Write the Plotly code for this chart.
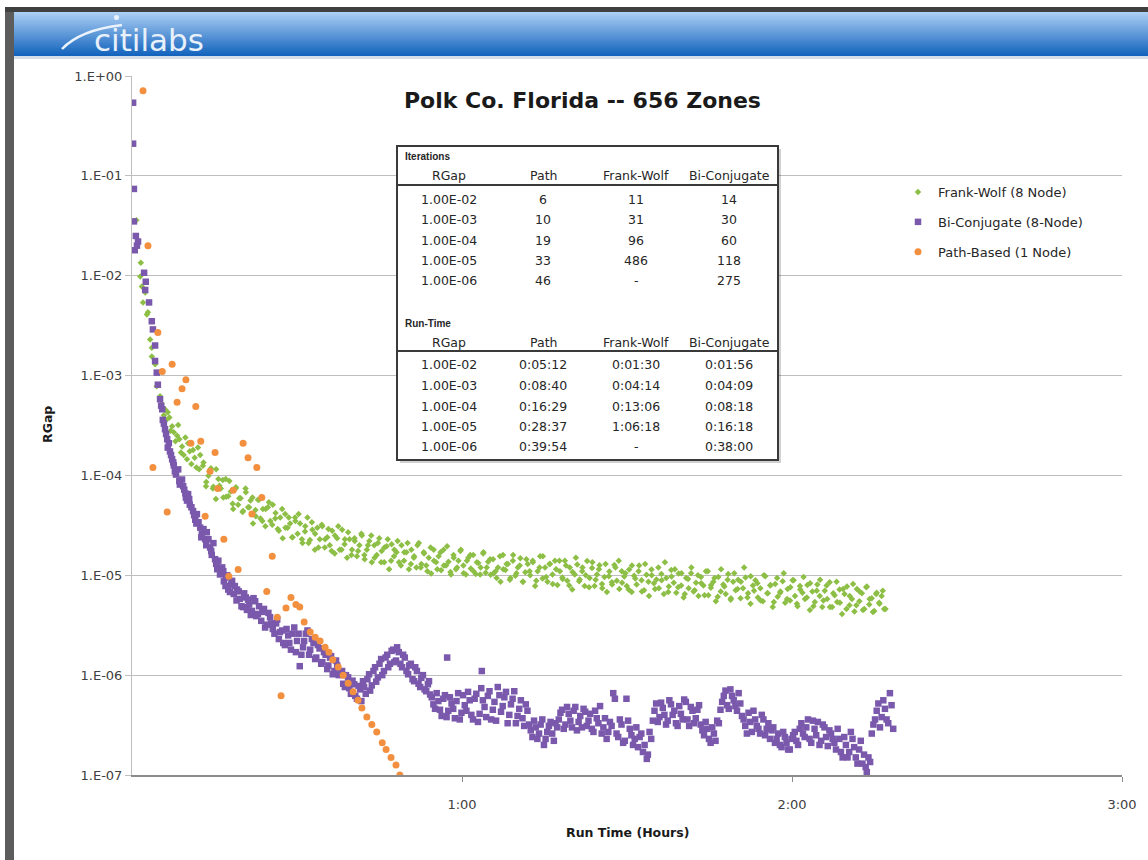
import plotly.graph_objects as go

# ---------------- data (minutes, RGap) ----------------
fw_min = [0.8, 1.6, 1.5, 1.8, 2.4, 2.0, 2.7, 2.9, 3.3, 3.6, 3.6, 4.2, 4.5, 5.1, 6.0, 6.5, 7.3, 8.4, 8.2, 9.1, 10.2, 11.1, 12.4,
          12.9, 13.5, 14.1, 14.7, 15.3, 15.9, 16.5, 17.1, 17.7, 18.3, 18.9, 19.5, 20.1, 20.7, 21.3, 21.9, 22.5, 23.1, 23.7,
          24.3, 24.9, 25.5, 26.1, 26.7, 27.3, 27.9, 28.5, 29.1, 29.7, 30.3, 30.9, 31.5, 32.1, 32.7, 33.3, 33.9, 34.5, 35.1,
          35.7, 36.3, 36.9, 37.5, 38.1, 38.7, 39.3, 39.9, 40.5, 41.1, 41.7, 42.3, 42.9, 43.5, 44.1, 44.7, 45.3, 45.9, 46.5,
          47.1, 47.7, 48.3, 48.9, 49.5, 50.1, 50.7, 51.3, 51.9, 52.5, 53.1, 53.7, 54.3, 54.9, 55.5, 56.1, 56.7, 57.3, 57.9,
          58.5, 59.1, 59.7, 60.3, 60.9, 61.5, 62.1, 62.7, 63.3, 63.9, 64.5, 65.1, 65.7, 66.3, 66.9, 67.5, 68.1, 68.7, 69.3,
          69.9, 70.5, 71.1, 71.7, 72.3, 72.9, 73.5, 74.1, 74.7, 75.3, 75.9, 76.5, 77.1, 77.7, 78.3, 78.9, 79.5, 80.1, 80.7,
          81.3, 81.9, 82.5, 83.1, 83.7, 84.3, 84.9, 85.5, 86.1, 86.7, 87.3, 87.9, 88.5, 89.1, 89.7, 90.3, 90.9, 91.5, 92.1,
          92.7, 93.3, 93.9, 94.5, 95.1, 95.7, 96.3, 96.9, 97.5, 98.1, 98.7, 99.3, 99.9, 100.5, 101.1, 101.7, 102.3, 102.9,
          103.5, 104.1, 104.7, 105.3, 105.9, 106.5, 107.1, 107.7, 108.3, 108.9, 109.5, 110.1, 110.7, 111.3, 111.9, 112.5,
          113.1, 113.7, 114.3, 114.9, 115.5, 116.1, 116.7, 117.3, 117.9, 118.5, 119.1, 119.7, 120.3, 120.9, 121.5, 122.1,
          122.7, 123.3, 123.9, 124.5, 125.1, 125.7, 126.3, 126.9, 127.5, 128.1, 128.7, 129.3, 129.9, 130.5, 131.1, 131.7,
          132.3, 132.9, 133.5, 134.1, 134.7, 135.3, 135.9, 136.5, 137.0]
fw_rgap = [3.6e-2, 1.35e-2, 9.8e-3, 7.8e-3, 6.8e-3, 5.4e-3, 4.1e-3, 4.3e-3, 2.3e-3, 1.9e-3, 1.55e-3, 1.3e-3, 7.8e-4, 6.2e-4,
           4.6e-4, 4.3e-4, 3.1e-4, 3.2e-4, 2.5e-4, 1.95e-4, 2.1e-4, 1.8e-4, 1.6e-4,
           1.25e-4, 8.6e-5, 1.1e-4, 7.4e-5, 1.15e-4, 7.9e-5, 9.0e-5, 6.1e-5, 8.8e-5, 5.2e-5, 7.6e-5, 5.9e-5, 4.3e-5, 6.8e-5,
           4.8e-5, 6.0e-5, 3.9e-5, 5.7e-5, 3.5e-5, 4.6e-5, 5.4e-5, 3.2e-5, 4.2e-5, 2.8e-5, 4.6e-5, 3.0e-5, 3.8e-5, 2.4e-5,
           3.5e-5, 4.1e-5, 2.3e-5, 3.1e-5, 2.1e-5, 3.4e-5, 2.6e-5, 1.9e-5, 3.2e-5, 2.3e-5, 2.9e-5, 1.75e-5, 2.5e-5, 3.1e-5,
           1.8e-5, 2.3e-5, 2.7e-5, 1.6e-5, 2.2e-5, 1.75e-5, 2.6e-5, 1.45e-5, 2.0e-5, 2.5e-5, 1.5e-5, 2.1e-5, 1.35e-5, 1.9e-5,
           2.3e-5, 1.4e-5, 1.8e-5, 2.2e-5, 1.25e-5, 1.7e-5, 2.1e-5, 1.3e-5, 1.55e-5, 2.0e-5, 1.2e-5, 1.65e-5, 1.1e-5, 1.9e-5,
           1.4e-5, 1.15e-5, 1.7e-5, 1.25e-5, 1.95e-5, 1.08e-5, 1.5e-5, 1.2e-5, 1.75e-5, 1.05e-5, 1.4e-5, 1.6e-5, 1.1e-5,
           1.35e-5, 1.02e-5, 1.7e-5, 1.2e-5, 1.45e-5, 1.04e-5, 9.4e-6, 1.55e-5, 1.15e-5, 1.3e-5, 9.0e-6, 1.6e-5, 1.05e-5,
           1.25e-5, 8.6e-6, 1.45e-5, 1.1e-5, 1.35e-5, 8.8e-6, 1.2e-5, 1.55e-5, 9.6e-6, 1.3e-5, 8.2e-6, 1.15e-5, 1.4e-5, 9.2e-6,
           1.25e-5, 7.9e-6, 1.08e-5, 1.5e-5, 8.7e-6, 1.2e-5, 1.0e-5, 7.6e-6, 1.35e-5, 9.0e-6, 1.15e-5, 7.4e-6, 1.3e-5, 9.8e-6,
           8.1e-6, 1.2e-5, 1.4e-5, 8.4e-6, 1.05e-5, 7.2e-6, 1.25e-5, 9.3e-6, 1.1e-5, 6.9e-6, 1.3e-5, 8.6e-6, 1.0e-5, 7.3e-6,
           1.2e-5, 8.9e-6, 1.35e-5, 6.8e-6, 9.7e-6, 1.15e-5, 7.6e-6, 1.05e-5, 6.5e-6, 9.2e-6, 1.2e-5, 7.1e-6, 1.0e-5, 8.3e-6,
           6.3e-6, 1.1e-5, 8.0e-6, 9.4e-6, 6.1e-6, 1.15e-5, 7.7e-6, 9.0e-6, 5.9e-6, 1.05e-5, 7.3e-6, 8.6e-6, 1.2e-5, 6.0e-6,
           9.8e-6, 7.0e-6, 8.3e-6, 5.6e-6, 1.0e-5, 6.6e-6, 8.0e-6, 5.4e-6, 9.4e-6, 6.9e-6, 1.05e-5, 5.8e-6, 7.6e-6, 8.9e-6,
           5.2e-6, 7.2e-6, 9.6e-6, 6.0e-6, 8.3e-6, 4.9e-6, 7.0e-6, 9.0e-6, 5.6e-6, 7.9e-6, 4.8e-6, 6.6e-6, 8.6e-6, 5.3e-6,
           7.3e-6, 4.6e-6, 6.2e-6, 8.2e-6, 5.0e-6, 6.9e-6, 4.5e-6, 7.6e-6, 5.8e-6, 4.3e-6, 6.5e-6, 5.2e-6, 7.0e-6, 4.6e-6]

fw_min_more = [5.4, 5.8, 6.2, 6.8, 7.0, 7.6, 7.9, 8.6, 8.9, 9.4, 9.7, 10.0, 10.5, 10.8, 11.4, 11.7, 12.0, 12.2,
               13.0, 13.45, 13.9, 14.35, 14.8, 15.25, 15.7, 16.15, 16.6, 17.05, 17.5, 17.95, 18.4, 18.85, 19.3, 19.75,
               20.2, 20.65, 21.1, 21.55, 22.0, 22.45, 22.9, 23.35, 23.8, 24.25, 24.7, 25.15, 25.6, 26.05, 26.5, 26.95,
               27.4, 27.85, 28.3, 28.75, 29.2, 29.65, 30.1, 30.55, 31.0, 31.45, 31.9, 32.35, 32.8, 33.25, 33.7, 34.15,
               34.6, 35.05, 35.5, 35.95, 36.4, 36.85, 37.3, 37.75, 38.2, 38.65, 39.1, 39.55, 40.0, 40.45, 40.9, 41.35,
               41.8, 42.25, 42.7, 43.15, 43.6, 44.05, 44.5, 44.95, 45.4, 45.85, 46.3, 46.75, 47.2, 47.65, 48.1, 48.55,
               49.0, 49.45, 49.9, 50.35, 50.8, 51.25, 51.7, 52.15, 52.6, 53.05, 53.5, 53.95, 54.4, 54.85, 55.3, 55.75,
               56.2, 56.65, 57.1, 57.55, 58.0, 58.45, 58.9, 59.35, 59.8, 60.25, 60.7, 61.15, 61.6, 62.05, 62.5, 62.95,
               63.4, 63.85, 64.3, 64.75, 65.2, 65.65, 66.1, 66.55, 67.0, 67.45, 67.9, 68.35, 68.8, 69.25, 69.7, 70.15,
               70.6, 71.05, 71.5, 71.95, 72.4, 72.85, 73.3, 73.75, 74.2, 74.65, 75.1, 75.55, 76.0, 76.45, 76.9, 77.35,
               77.8, 78.25, 78.7, 79.15, 79.6, 80.05, 80.5, 80.95, 81.4, 81.85, 82.3, 82.75, 83.2, 83.65, 84.1, 84.55,
               85.0, 85.45, 85.9, 86.35, 86.8, 87.25, 87.7, 88.15, 88.6, 89.05, 89.5, 89.95, 90.4, 90.85, 91.3, 91.75,
               92.2, 92.65, 93.1, 93.55, 94.0, 94.45, 94.9, 95.35, 95.8, 96.25, 96.7, 97.15, 97.6, 98.05, 98.5, 98.95,
               99.4, 99.85, 100.3, 100.75, 101.2, 101.65, 102.1, 102.55, 103.0, 103.45, 103.9, 104.35, 104.8, 105.25,
               105.7, 106.15, 106.6, 107.05, 107.5, 107.95, 108.4, 108.85, 109.3, 109.75, 110.2, 110.65, 111.1, 111.55,
               112.0, 112.45, 112.9, 113.35, 113.8, 114.25, 114.7, 115.15, 115.6, 116.05, 116.5, 116.95, 117.4, 117.85,
               118.3, 118.75, 119.2, 119.65, 120.1, 120.55, 121.0, 121.45, 121.9, 122.35, 122.8, 123.25, 123.7, 124.15,
               124.6, 125.05, 125.5, 125.95, 126.4, 126.85, 127.3, 127.75, 128.2, 128.65, 129.1, 129.55, 130.0, 130.45,
               130.9, 131.35, 131.8, 132.25, 132.7, 133.15, 133.6, 134.05, 134.5, 134.95, 135.4, 135.85, 136.3, 136.75]
fw_rgap_more = [5.2e-4, 4.0e-4, 3.6e-4, 3.8e-4, 2.8e-4, 2.7e-4, 2.2e-4, 2.3e-4, 1.7e-4, 1.6e-4, 2.4e-4, 1.45e-4, 1.75e-4,
                1.3e-4, 1.5e-4, 1.2e-4, 1.9e-4, 1.15e-4,
                1.35e-4, 7.8e-5, 9.9e-5, 1.18e-4, 7.7e-5, 5.8e-5, 9.2e-5, 7.4e-5, 6.0e-5, 9.2e-5, 6.2e-5, 6.9e-5, 4.6e-5,
                7.4e-5, 5.1e-5, 5.9e-5, 4.4e-5, 7.4e-5, 4.8e-5, 5.6e-5, 3.3e-5, 4.5e-5, 5.7e-5, 3.7e-5, 4.6e-5, 3.1e-5,
                4.8e-5, 3.5e-5, 5.1e-5, 3.7e-5, 2.9e-5, 3.8e-5, 2.35e-5, 4.1e-5, 3.0e-5, 3.3e-5, 2.4e-5, 3.8e-5, 2.6e-5,
                3.3e-5, 2.1e-5, 2.75e-5, 3.8e-5, 2.25e-5, 2.85e-5, 1.8e-5, 3.0e-5, 2.3e-5, 3.1e-5, 1.9e-5, 2.4e-5, 2.0e-5,
                2.8e-5, 1.65e-5, 2.35e-5, 1.8e-5, 2.85e-5, 2.05e-5, 1.5e-5, 2.3e-5, 1.8e-5, 2.35e-5, 1.55e-5, 2.0e-5,
                2.5e-5, 1.6e-5, 1.8e-5, 2.2e-5, 1.35e-5, 2.0e-5, 1.6e-5, 2.35e-5, 1.75e-5, 1.35e-5, 1.95e-5, 1.15e-5,
                2.05e-5, 1.55e-5, 1.7e-5, 1.35e-5, 2.0e-5, 1.4e-5, 1.7e-5, 1.15e-5, 1.8e-5, 1.5e-5, 1.2e-5, 2.1e-5, 1.3e-5,
                1.7e-5, 1.25e-5, 1.5e-5, 1.04e-5, 1.8e-5, 1.35e-5, 1.55e-5, 1.12e-5, 1.8e-5, 1.25e-5, 1.37e-5, 1.02e-5,
                1.6e-5, 1.15e-5, 1.4e-5, 1.8e-5, 1.25e-5, 1.02e-5, 1.5e-5, 1.17e-5, 1.6e-5, 1.03e-5, 1.33e-5, 1.2e-5,
                1.65e-5, 1.06e-5, 1.37e-5, 1.01e-5, 1.45e-5, 1.1e-5, 1.2e-5, 8.6e-6, 1.6e-5, 1.13e-5, 1.3e-5, 9.4e-6,
                1.4e-5, 9.9e-6, 1.2e-5, 1.48e-5, 8.6e-6, 1.07e-5, 1.3e-5, 1.0e-5, 1.4e-5, 7.8e-6, 1.1e-5, 1.55e-5, 9.3e-6,
                1.2e-5, 8.6e-6, 1.3e-5, 1.02e-5, 1.4e-5, 8.0e-6, 1.1e-5, 9.5e-6, 1.4e-5, 8.8e-6, 1.2e-5, 7.2e-6, 1.02e-5,
                1.28e-5, 9.1e-6, 1.1e-5, 7.8e-6, 1.39e-5, 9.4e-6, 1.18e-5, 7.8e-6, 1.02e-5, 1.26e-5, 8.2e-6, 9.6e-6,
                6.8e-6, 1.09e-5, 8.5e-6, 1.27e-5, 8.8e-6, 7.3e-6, 1.1e-5, 9.7e-6, 7.8e-6, 1.14e-5, 6.8e-6, 9.9e-6, 8.1e-6,
                1.25e-5, 8.9e-6, 7.1e-6, 1.01e-5, 6.2e-6, 1.14e-5, 8.3e-6, 9.1e-6, 7.4e-6, 1.03e-5, 6.5e-6, 9.4e-6, 7.7e-6,
                1.13e-5, 8.4e-6, 6.7e-6, 1.04e-5, 7.9e-6, 6.0e-6, 9.4e-6, 7.4e-6, 1.05e-5, 6.9e-6, 8.4e-6, 6.2e-6, 9.6e-6,
                7.9e-6, 1.1e-5, 6.3e-6, 7.5e-6, 8.6e-6, 5.5e-6, 9.6e-6, 6.9e-6, 8.1e-6, 6.5e-6, 1.03e-5, 5.7e-6, 8.6e-6,
                7.1e-6, 9.0e-6, 5.9e-6, 7.4e-6, 9.5e-6, 6.6e-6, 5.2e-6, 7.9e-6, 8.9e-6, 6.0e-6, 7.4e-6, 5.5e-6, 9.8e-6,
                6.6e-6, 7.9e-6, 4.8e-6, 8.2e-6, 6.1e-6, 6.7e-6, 8.7e-6, 5.3e-6, 7.3e-6, 5.6e-6, 8.9e-6, 6.2e-6, 4.9e-6,
                7.8e-6, 6.7e-6, 5.8e-6, 8.0e-6, 4.5e-6, 6.9e-6, 5.4e-6, 8.1e-6, 6.2e-6, 4.8e-6, 7.0e-6, 5.8e-6, 8.5e-6,
                4.8e-6, 6.3e-6, 5.4e-6, 7.2e-6, 4.1e-6, 6.5e-6, 7.7e-6, 5.0e-6, 5.8e-6, 4.35e-6, 7.3e-6, 5.5e-6, 6.6e-6,
                4.6e-6, 7.7e-6, 5.1e-6, 5.9e-6, 4.4e-6, 6.7e-6, 5.3e-6, 6.2e-6, 4.6e-6]

bc_min = [0.2, 0.2, 0.35, 0.35, 0.5, 0.7, 0.9, 1.1, 2.2, 2.4, 2.5, 3.1, 3.6, 3.8, 4.2, 4.2, 4.5, 4.7, 5.1, 5.5, 5.6, 6.0,
          6.4, 6.5, 6.9, 7.3, 7.6, 8.0, 8.4, 8.7, 9.1, 9.5, 9.8, 10.2, 10.5, 11.1, 11.5, 11.8, 12.4, 12.7, 13.3, 13.6,
          14.2, 14.5, 15.1, 15.5, 16.0, 16.4, 16.7, 17.1, 17.5, 18.0, 18.5, 19.1, 19.6, 20.2, 20.7, 21.3, 21.8, 22.4,
          22.9, 23.5, 24.0, 24.5, 25.1, 25.6, 26.2, 26.7, 27.3, 27.8, 28.4, 28.9, 29.5, 30.0, 30.5, 31.1, 31.6, 32.2,
          32.7, 33.3, 33.8, 34.4, 34.9, 35.5, 36.0, 36.5, 37.1, 37.6, 38.2, 38.7, 39.3, 39.8, 40.4, 40.9, 41.5, 42.0,
          42.5, 43.1, 43.6, 44.2, 44.7, 45.3, 45.8, 46.4, 46.9, 47.5, 48.0, 48.5, 49.1, 49.6, 50.2, 50.7, 51.3, 51.8,
          52.4, 52.9, 53.5, 54.0,
          54.5, 55.1, 55.7, 56.3, 56.9, 57.3, 57.5, 58.1, 58.7, 59.3, 59.9, 60.5, 61.1, 61.7, 62.3, 62.9, 63.5, 63.6,
          64.1, 64.7, 65.3, 65.9, 66.5, 67.1, 67.7, 68.3, 68.9, 69.5, 70.1, 70.7, 71.3, 71.9, 72.5, 73.1, 73.7, 74.3,
          74.9, 75.5, 76.1, 76.7, 77.3, 77.9, 78.5, 79.1, 79.7, 80.3, 80.9, 81.5, 82.1, 82.7, 83.3, 83.9, 84.5, 85.1,
          85.7, 86.3, 86.9, 87.5, 88.1, 88.7, 89.3, 89.9, 90.5, 91.1, 91.7, 92.3, 92.9, 93.6, 94.1, 94.7, 95.3, 95.9,
          96.5, 97.1, 97.7, 98.3, 98.9, 99.5, 100.1, 100.7, 101.3, 101.9, 102.5, 103.1, 103.7, 104.3, 104.9, 105.5,
          106.1, 106.7, 107.3, 107.9, 108.5, 109.1, 109.7, 110.3, 110.9, 111.5, 112.1, 112.7, 113.3, 113.9, 114.5,
          115.1, 115.7, 116.3, 116.9, 117.5, 118.1, 118.7, 119.3, 119.9, 120.5, 121.1, 121.7, 122.3, 122.9, 123.5,
          124.1, 124.7, 125.3, 125.9, 126.5, 127.1, 127.7, 128.3, 128.9, 129.5, 130.1, 130.7, 131.3, 131.9, 132.5,
          133.1, 133.6, 134.2, 134.8, 135.4, 136.0, 136.6, 137.2, 137.8, 138.4]
bc_rgap = [0.54, 0.21, 0.074, 0.035, 0.018, 0.025, 0.020, 0.022, 1.07e-2, 7.2e-3, 8.7e-3, 5.4e-3, 3.5e-3, 2.9e-3, 2.0e-3,
           1.4e-3, 1.07e-3, 8.1e-4, 5.8e-4, 4.6e-4, 3.6e-4, 2.9e-4, 2.3e-4, 1.9e-4, 1.74e-4, 1.45e-4, 1.26e-4, 1.02e-4,
           1.15e-4, 8.1e-5, 9.1e-5, 7.2e-5, 6.0e-5, 6.5e-5, 5.1e-5, 4.4e-5, 3.6e-5, 4.1e-5, 3.0e-5, 2.6e-5, 2.3e-5, 2.7e-5,
           1.9e-5, 1.6e-5, 1.45e-5, 1.15e-5, 1.02e-5, 1.2e-5, 8.7e-6, 9.5e-6, 7.2e-6, 8.1e-6, 6.5e-6, 7.2e-6, 5.8e-6,
           4.8e-6, 6.0e-6, 5.1e-6, 4.4e-6, 5.5e-6, 4.1e-6, 3.5e-6, 4.6e-6, 3.2e-6, 3.8e-6, 2.9e-6, 3.3e-6, 2.3e-6, 2.8e-6,
           2.0e-6, 2.5e-6, 1.8e-6, 3.0e-6, 2.2e-6, 1.23e-6, 1.9e-6, 2.6e-6, 1.6e-6, 2.3e-6, 1.45e-6, 2.0e-6, 1.3e-6,
           1.7e-6, 1.15e-6, 1.5e-6, 1.02e-6, 1.4e-6, 1.0e-6, 1.1e-6, 7.6e-7, 9.5e-7, 6.5e-7, 8.1e-7, 5.8e-7, 7.2e-7,
           8.7e-7, 6.5e-7, 1.02e-6, 7.9e-7, 1.2e-6, 9.5e-7, 1.45e-6, 1.1e-6, 1.6e-6, 1.3e-6, 1.8e-6, 1.4e-6, 1.7e-6,
           1.2e-6, 1.5e-6, 1.02e-6, 1.3e-6, 8.7e-7, 1.1e-6, 7.6e-7, 1.0e-6, 6.9e-7, 8.7e-7,
           6.0e-7, 4.6e-7, 5.5e-7, 3.9e-7, 6.3e-7, 1.5e-6, 4.4e-7, 5.2e-7, 3.7e-7, 6.6e-7, 4.2e-7, 5.0e-7, 6.8e-7, 4.0e-7,
           5.8e-7, 3.4e-7, 7.4e-7, 1.1e-6, 4.8e-7, 6.2e-7, 3.6e-7, 5.4e-7, 7.6e-7, 4.3e-7, 6.0e-7, 3.3e-7, 5.1e-7, 6.9e-7,
           3.9e-7, 5.6e-7, 3.1e-7, 4.4e-7, 2.8e-7, 3.5e-7, 2.3e-7, 3.2e-7, 2.0e-7, 2.7e-7, 3.4e-7, 2.2e-7, 3.0e-7, 4.2e-7,
           2.9e-7, 4.8e-7, 3.5e-7, 4.4e-7, 2.8e-7, 3.9e-7, 4.6e-7, 3.1e-7, 4.1e-7, 2.7e-7, 3.7e-7, 4.9e-7, 3.0e-7, 2.3e-7,
           3.4e-7, 6.6e-7, 2.6e-7, 3.6e-7, 2.1e-7, 5.8e-7, 2.9e-7, 2.0e-7, 3.0e-7, 2.4e-7, 1.7e-7, 1.45e-7, 2.7e-7, 3.5e-7,
           5.2e-7, 3.8e-7, 4.7e-7, 3.2e-7, 5.6e-7, 4.0e-7, 3.3e-7, 4.9e-7, 3.6e-7, 5.4e-7, 3.1e-7, 4.4e-7, 3.7e-7, 5.0e-7,
           2.8e-7, 3.4e-7, 2.3e-7, 3.0e-7, 2.2e-7, 3.3e-7, 5.4e-7, 7.0e-7, 4.6e-7, 6.2e-7, 4.9e-7, 6.6e-7, 3.9e-7, 3.1e-7,
           4.2e-7, 2.7e-7, 3.6e-7, 2.9e-7, 4.0e-7, 2.5e-7, 3.3e-7, 2.8e-7, 2.1e-7, 2.6e-7, 1.9e-7, 2.4e-7, 1.8e-7, 2.3e-7,
           2.7e-7, 2.0e-7, 3.3e-7, 2.4e-7, 3.6e-7, 2.1e-7, 2.9e-7, 3.4e-7, 2.2e-7, 3.0e-7, 1.95e-7, 2.6e-7, 2.1e-7, 2.9e-7,
           1.7e-7, 2.4e-7, 1.5e-7, 2.7e-7, 1.9e-7, 1.3e-7, 2.2e-7, 1.6e-7, 1.07e-7, 1.35e-7, 3.2e-7, 4.4e-7, 3.0e-7, 5.6e-7,
           3.6e-7, 6.6e-7, 2.9e-7]

bc_min_more = [5.3, 5.8, 6.2, 6.7, 7.1, 7.5, 7.8, 8.6, 9.3, 9.7, 10.0, 10.4, 10.8, 11.3, 11.7,
               12.1, 12.6, 13.0, 13.5, 13.9, 14.4, 14.8, 15.3, 15.7, 16.4, 16.6, 17.0, 17.3, 17.8, 18.2, 18.7, 19.0,
               19.4, 19.9, 20.4, 20.9, 21.1, 21.6, 22.1, 22.6, 23.1, 23.7, 24.2, 24.8, 25.3, 25.9, 26.4, 26.9, 27.5,
               28.1, 28.6, 29.2, 29.8, 30.3, 30.8, 31.3, 31.9, 32.4, 33.0, 33.5, 34.1, 34.6, 35.2, 35.7, 36.2, 36.8,
               37.3, 37.9, 38.4, 38.9, 39.5, 40.1, 40.6, 41.2, 41.7, 42.2, 42.8, 43.3, 43.9, 44.4, 45.0, 45.5, 46.1,
               46.6, 47.2, 47.7, 48.2, 48.8, 49.3, 49.9, 50.4, 51.0, 51.5, 52.1, 52.6, 53.2, 53.8, 54.2, 54.8, 55.4,
               56.0, 56.6, 57.2, 57.8, 58.4, 59.0, 59.6, 60.2, 60.8, 61.4, 62.0, 62.6, 63.2, 63.8, 64.4, 65.0, 65.6,
               66.2, 66.8, 67.4, 68.0, 68.6, 69.2, 69.8, 70.4, 71.0, 71.6, 72.2, 72.8, 73.4, 74.0, 74.6, 75.2, 75.8,
               76.4, 77.0, 77.6, 78.2, 78.8, 79.4, 80.0, 80.6, 81.2, 81.8, 82.4, 83.0, 83.6, 84.2, 84.8, 85.4, 86.0,
               86.6, 87.2, 87.8, 88.4, 89.0, 89.6, 90.2, 90.8, 91.4, 92.0, 92.6, 93.2, 93.8, 94.4, 95.0, 95.6, 96.2,
               96.8, 97.4, 98.0, 98.6, 99.2, 99.8, 100.4, 101.0, 101.6, 102.2, 102.8, 103.4, 104.0, 104.6, 105.2,
               105.8, 106.4, 107.0, 107.6, 108.2, 108.8, 109.4, 110.0, 110.6, 111.2, 111.8, 112.4, 113.0, 113.6,
               114.2, 114.8, 115.4, 116.0, 116.6, 117.2, 117.8, 118.4, 119.0, 119.6, 120.2, 120.8, 121.4, 122.0,
               122.6, 123.2, 123.8, 124.4, 125.0, 125.6, 126.2, 126.8, 127.4, 128.0, 128.6, 129.2, 129.8, 130.4,
               131.0, 131.6, 132.2, 132.8, 133.4, 133.9, 134.5, 135.1, 135.7, 136.3, 136.9, 137.5, 138.1]
bc_rgap_more = [5.0e-4, 3.3e-4, 2.6e-4, 2.1e-4, 1.6e-4, 1.35e-4, 1.1e-4, 8.8e-5, 7.8e-5, 6.6e-5, 5.6e-5, 5.8e-5, 4.8e-5,
                4.0e-5, 3.3e-5,
                3.4e-5, 2.4e-5, 2.9e-5, 2.0e-5, 2.3e-5, 1.75e-5, 2.1e-5, 1.3e-5, 1.4e-5, 1.05e-5, 1.1e-5, 7.8e-6, 1.0e-5,
                6.8e-6, 8.8e-6, 7.8e-6, 5.6e-6, 6.9e-6, 4.9e-6, 6.6e-6, 4.5e-6, 5.7e-6, 4.0e-6, 5.9e-6, 3.9e-6, 4.9e-6,
                4.3e-6, 3.0e-6, 4.2e-6, 3.3e-6, 2.6e-6, 3.6e-6, 2.7e-6, 2.1e-6, 2.9e-6, 2.1e-6, 2.6e-6, 1.7e-6, 2.6e-6,
                1.6e-6, 2.2e-6, 2.8e-6, 1.8e-6, 2.1e-6, 1.5e-6, 1.85e-6, 1.35e-6, 1.6e-6, 1.25e-6, 1.55e-6, 1.1e-6,
                1.25e-6, 1.05e-6, 8.2e-7, 1.0e-6, 7.4e-7, 8.8e-7, 6.2e-7, 7.8e-7, 5.5e-7, 7.6e-7, 9.1e-7, 7.0e-7, 1.1e-6,
                8.6e-7, 1.3e-6, 1.0e-6, 1.5e-6, 1.2e-6, 1.75e-6, 1.35e-6, 1.9e-6, 1.3e-6, 1.6e-6, 1.1e-6, 1.25e-6, 9.1e-7,
                1.2e-6, 8.2e-7, 9.4e-7, 7.2e-7, 8.1e-7, 6.4e-7, 5.1e-7, 6.6e-7, 4.5e-7, 5.8e-7, 3.8e-7, 6.0e-7, 4.6e-7,
                5.5e-7, 3.6e-7, 6.3e-7, 4.4e-7, 5.6e-7, 3.6e-7, 6.5e-7, 4.1e-7, 5.6e-7, 3.8e-7, 6.9e-7, 4.5e-7, 3.5e-7,
                6.3e-7, 4.9e-7, 6.8e-7, 4.0e-7, 5.8e-7, 3.3e-7, 4.6e-7, 3.7e-7, 5.1e-7, 3.2e-7, 2.4e-7, 3.0e-7, 2.6e-7,
                3.6e-7, 2.3e-7, 3.1e-7, 2.6e-7, 3.3e-7, 3.6e-7, 4.5e-7, 3.2e-7, 4.1e-7, 3.0e-7, 4.8e-7, 3.4e-7, 3.0e-7,
                4.3e-7, 3.5e-7, 2.9e-7, 4.4e-7, 3.3e-7, 2.6e-7, 3.7e-7, 2.7e-7, 3.1e-7, 5.8e-7, 2.4e-7, 3.2e-7, 2.2e-7,
                3.5e-7, 2.5e-7, 2.3e-7, 1.9e-7, 2.6e-7, 2.0e-7, 1.6e-7, 2.3e-7, 4.4e-7, 3.4e-7, 5.3e-7, 4.0e-7, 3.5e-7,
                5.1e-7, 4.4e-7, 3.1e-7, 4.1e-7, 5.7e-7, 3.6e-7, 4.8e-7, 3.3e-7, 4.5e-7, 3.2e-7, 2.5e-7, 2.9e-7, 2.1e-7,
                2.6e-7, 3.5e-7, 4.5e-7, 6.2e-7, 5.0e-7, 7.2e-7, 5.6e-7, 4.4e-7, 5.2e-7, 3.6e-7, 2.6e-7, 3.4e-7, 4.4e-7,
                3.1e-7, 2.6e-7, 3.6e-7, 2.9e-7, 2.3e-7, 3.0e-7, 2.3e-7, 2.0e-7, 2.7e-7, 2.1e-7, 1.8e-7, 2.5e-7, 2.2e-7,
                2.9e-7, 2.6e-7, 3.0e-7, 2.3e-7, 3.5e-7, 2.5e-7, 2.0e-7, 3.2e-7, 2.4e-7, 2.8e-7, 2.3e-7, 1.8e-7, 2.3e-7,
                1.5e-7, 2.0e-7, 1.7e-7, 2.3e-7, 1.5e-7, 1.8e-7, 1.3e-7, 1.2e-7, 1.5e-7, 2.6e-7, 3.6e-7, 5.2e-7, 3.8e-7,
                4.6e-7, 3.3e-7, 5.0e-7]

path_min = [2.0, 2.9, 4.7, 7.3, 5.5, 9.8, 9.1, 8.2, 11.6, 10.7, 12.5, 15.1, 20.2, 21.1, 22.7, 3.8, 14.2, 15.6, 18.4, 23.6,
            6.4, 21.8, 13.3, 16.7, 25.5, 19.3, 17.6, 24.5, 28.9, 28.0, 29.8, 30.5, 26.4, 31.3, 32.4, 33.3, 34.2, 35.1,
            35.8, 36.5, 37.5, 38.4, 39.3, 27.1, 40.2, 41.1, 41.8, 42.7, 43.6, 44.5, 45.5, 46.2, 47.1, 48.0, 48.7]
path_rgap = [0.71, 0.020, 2.7e-3, 1.3e-3, 1.1e-3, 9.1e-4, 7.4e-4, 5.4e-4, 4.9e-4, 2.1e-4, 2.2e-4, 1.7e-4, 2.1e-4, 1.5e-4,
             1.2e-4, 1.2e-4, 1.1e-4, 7.4e-5, 7.1e-5, 6.0e-5, 4.3e-5, 4.1e-5, 3.9e-5, 2.3e-5, 1.55e-5, 1.14e-5, 9.8e-6,
             6.9e-6, 6.0e-6, 4.7e-6, 5.1e-6, 4.8e-6, 3.8e-6, 3.4e-6, 2.7e-6, 2.4e-6, 2.2e-6, 1.9e-6, 1.7e-6, 1.43e-6,
             1.21e-6, 1.0e-6, 8.3e-7, 6.2e-7, 6.8e-7, 5.6e-7, 4.7e-7, 3.8e-7, 3.2e-7, 2.7e-7, 2.1e-7, 1.8e-7, 1.5e-7,
             1.26e-7, 1.0e-7]

series_names = ["Frank-Wolf (8 Node)", "Bi-Conjugate (8-Node)", "Path-Based (1 Node)"]

y_tickvals = [1e-7, 1e-6, 1e-5, 1e-4, 1e-3, 1e-2, 1e-1, 1]
y_ticktext = ["1.E-07", "1.E-06", "1.E-05", "1.E-04", "1.E-03", "1.E-02", "1.E-01", "1.E+00"]
x_tickvals = [60, 120, 180]
x_ticktext = ["1:00", "2:00", "3:00"]

chart_title = "Polk Co. Florida -- 656 Zones"
x_title = "Run Time (Hours)"
y_title = "RGap"

tbl_header = ["RGap", "Path", "Frank-Wolf", "Bi-Conjugate"]
tbl_rgap = ["1.00E-02", "1.00E-03", "1.00E-04", "1.00E-05", "1.00E-06"]
iter_path = ["6", "10", "19", "33", "46"]
iter_fw = ["11", "31", "96", "486", "-"]
iter_bc = ["14", "30", "60", "118", "275"]
rt_path = ["0:05:12", "0:08:40", "0:16:29", "0:28:37", "0:39:54"]
rt_fw = ["0:01:30", "0:04:14", "0:13:06", "1:06:18", "-"]
rt_bc = ["0:01:56", "0:04:09", "0:08:18", "0:16:18", "0:38:00"]

# ---------------- layout helpers ----------------
W, H = 1148, 860
ML, MR, MT, MB = 132, 26, 76, 85
PW = W - ML - MR
PH = H - MT - MB


def fx(p):
    return (p - ML) / PW


def fy(p):
    return (H - MB - p) / PH


FONT = "DejaVu Sans"
fig = go.Figure()

fig.add_trace(go.Scatter(x=fw_min + fw_min_more, y=fw_rgap + fw_rgap_more, mode="markers", name=series_names[0],
                         legendgroup="a", marker=dict(symbol="diamond", size=5, color="#8DBF47")))
fig.add_trace(go.Scatter(x=bc_min + bc_min_more, y=bc_rgap + bc_rgap_more, mode="markers", name=series_names[1],
                         legendgroup="b", marker=dict(symbol="square", size=6.5, color="#7A58AC")))
fig.add_trace(go.Scatter(x=path_min, y=path_rgap, mode="markers", name=series_names[2], legendgroup="c",
                         marker=dict(symbol="circle", size=7, color="#F39040")))

shapes = []
# left frame bar and top dark line
shapes.append(dict(type="rect", xref="paper", yref="paper", x0=fx(5), x1=fx(14), y0=fy(860), y1=fy(7),
                   fillcolor="#5C5C5C", line=dict(width=0), layer="above"))
shapes.append(dict(type="rect", xref="paper", yref="paper", x0=fx(5), x1=fx(1148), y0=fy(12), y1=fy(7),
                   fillcolor="#404040", line=dict(width=0), layer="above"))
# banner gradient
c0 = (170, 206, 244)
c1 = (20, 100, 190)
n = 22
top, bot = 12, 56
for i in range(n):
    t = i / (n - 1)
    c = tuple(int(c0[k] + (c1[k] - c0[k]) * t) for k in range(3))
    y0 = top + (bot - top) * i / n
    y1 = top + (bot - top) * (i + 1) / n
    shapes.append(dict(type="rect", xref="paper", yref="paper", x0=fx(14), x1=fx(1148), y0=fy(y1 + 0.3), y1=fy(y0),
                       fillcolor="rgb(%d,%d,%d)" % c, line=dict(width=0), layer="above"))
shapes.append(dict(type="rect", xref="paper", yref="paper", x0=fx(14), x1=fx(1148), y0=fy(59), y1=fy(56),
                   fillcolor="#D3DEEA", line=dict(width=0), layer="above"))
# logo swoosh
shapes.append(dict(type="path", xref="paper", yref="paper",
                   path="M %f %f Q %f %f %f %f" % (fx(62), fy(49), fx(80), fy(30), fx(122), fy(25)),
                   line=dict(color="#EAF2FB", width=2.5), layer="above"))
shapes.append(dict(type="circle", xref="paper", yref="paper", x0=fx(114), x1=fx(119), y0=fy(20), y1=fy(15),
                   fillcolor="#EAF2FB", line=dict(width=0), layer="above"))

# table box
TX0, TX1, TY0, TY1 = 397, 778, 146, 460
shapes.append(dict(type="rect", xref="paper", yref="paper", x0=fx(TX0 + 3), x1=fx(TX1 + 3), y0=fy(TY1 + 3), y1=fy(TY0 + 3),
                   fillcolor="rgba(0,0,0,0.18)", line=dict(width=0), layer="above"))
shapes.append(dict(type="rect", xref="paper", yref="paper", x0=fx(TX0), x1=fx(TX1), y0=fy(TY1), y1=fy(TY0),
                   fillcolor="white", line=dict(color="#3A3A3A", width=2), layer="above"))
for yl in (185, 351):
    shapes.append(dict(type="line", xref="paper", yref="paper", x0=fx(TX0), x1=fx(TX1), y0=fy(yl), y1=fy(yl),
                       line=dict(color="#3A3A3A", width=2), layer="above"))

ann = []


def txt(s, x, y, size=12, bold=False, color="#262626", anchor="center", angle=0, family=FONT):
    ann.append(dict(text=("<b>%s</b>" % s) if bold else s, xref="paper", yref="paper", x=fx(x), y=fy(y),
                    xanchor=anchor, yanchor="middle", showarrow=False, textangle=angle,
                    font=dict(size=size, color=color, family=family)))


txt(chart_title, 582, 100, size=22, bold=True, color="#1A1A1A")
txt(x_title, 627, 832, size=12.5, bold=True, color="#1A1A1A")
txt(y_title, 47, 425, size=12.5, bold=True, color="#1A1A1A", angle=-90)
txt("citilabs", 92, 40, size=31, color="#E8F0FA", anchor="left")

cols = [449, 543, 636, 729]
txt("Iterations", 403, 156, size=10, bold=True, anchor="left", family="Liberation Sans")
for cx, h in zip(cols, tbl_header):
    txt(h, cx, 175, size=12.5)
row_y1 = [199, 219, 240, 260, 280]
for i, ry in enumerate(row_y1):
    for cx, v in zip(cols, [tbl_rgap[i], iter_path[i], iter_fw[i], iter_bc[i]]):
        txt(v, cx, ry, size=12.5)
txt("Run-Time", 403, 323, size=10, bold=True, anchor="left", family="Liberation Sans")
for cx, h in zip(cols, tbl_header):
    txt(h, cx, 342, size=12.5)
row_y2 = [365, 385, 406, 426, 447]
for i, ry in enumerate(row_y2):
    for cx, v in zip(cols, [tbl_rgap[i], rt_path[i], rt_fw[i], rt_bc[i]]):
        txt(v, cx, ry, size=12.5)

fig.update_layout(
    width=W, height=H,
    margin=dict(l=ML, r=MR, t=MT, b=MB),
    paper_bgcolor="white", plot_bgcolor="white",
    font=dict(family=FONT, size=12, color="#404040"),
    showlegend=True,
    legend=dict(x=fx(898), y=fy(177), xanchor="left", yanchor="top", bgcolor="rgba(0,0,0,0)",
                font=dict(size=13, color="#262626", family=FONT), tracegroupgap=10, itemwidth=30),
    shapes=shapes, annotations=ann,
    xaxis=dict(range=[0, 180], showgrid=False, zeroline=False, showline=True, linecolor="#8C8C8C", linewidth=2,
               ticks="outside", ticklen=5, tickcolor="#8C8C8C", tickvals=x_tickvals, ticktext=x_ticktext,
               tickfont=dict(size=13, color="#404040"), ticklabelstandoff=11),
    yaxis=dict(type="log", range=[-7, 0], showgrid=True, gridcolor="#BEBEBE", gridwidth=1, zeroline=False,
               showline=True, linecolor="#BEBEBE", linewidth=1, ticks="outside", ticklen=6, tickcolor="#BEBEBE",
               tickvals=y_tickvals, ticktext=y_ticktext, tickfont=dict(size=13, color="#404040")),
)

fig.write_html("out.html", config={"displayModeBar": False},
               post_script="document.body.style.margin='0';document.body.style.overflow='hidden';")
